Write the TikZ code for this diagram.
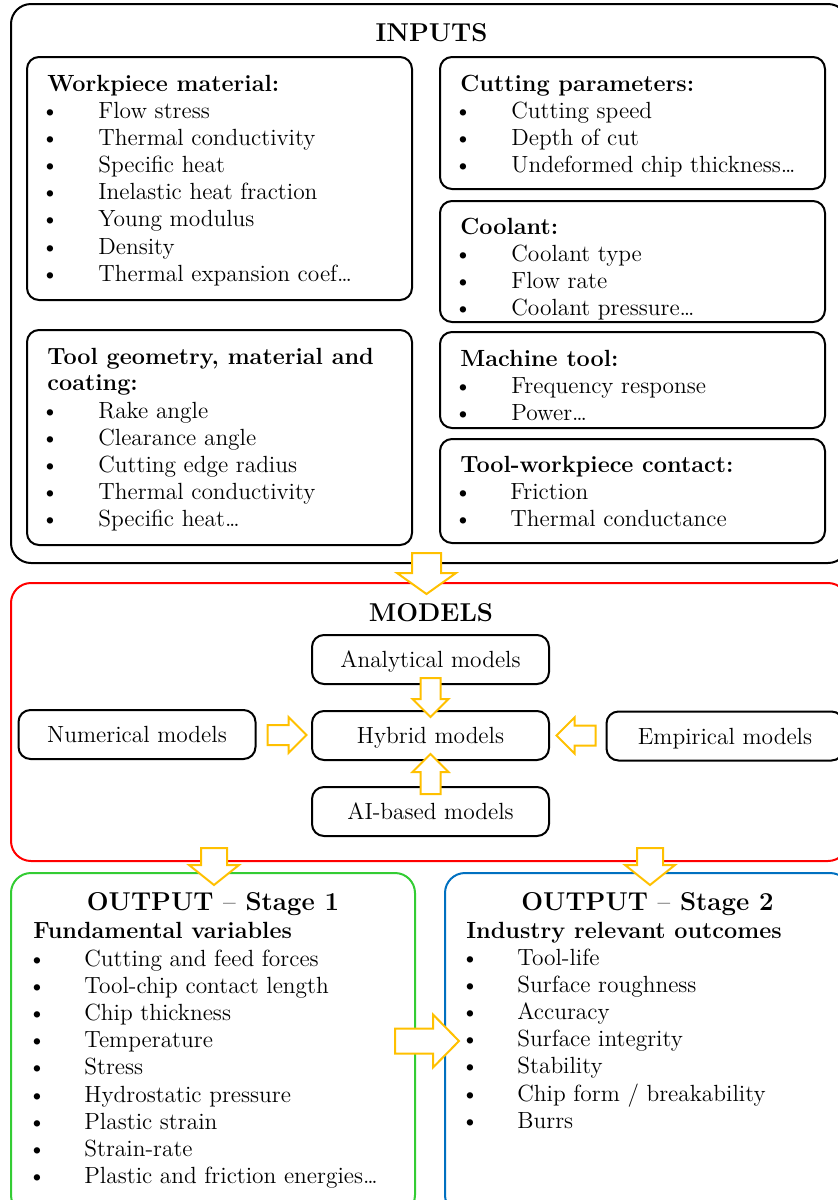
\documentclass[tikz,border=0pt]{standalone}
\usepackage{tikz}
\usetikzlibrary{positioning,fit,calc}
\definecolor{arrowyellow}{RGB}{255,192,0}
\definecolor{outgreen}{RGB}{51,204,51}
\definecolor{outblue}{RGB}{0,112,192}
\newcommand{\bodyfont}{\fontsize{11.7}{13.6}\selectfont}
\newcommand{\headfont}{\fontsize{12.9}{15}\selectfont\bfseries}
\newcommand{\etcdots}{.\kern-1.1pt.\kern-1.1pt.}
\tikzset{
  px/.style={x=0.5pt,y=-0.5pt},
  outerbox/.style={draw,line width=1pt,rounded corners=10pt,inner sep=0pt},
  inbox/.style={draw,line width=1pt,rounded corners=6pt,inner sep=0pt},
  modelbox/.style={draw,line width=1pt,rounded corners=6pt,minimum width=118.5pt,
    minimum height=24.5pt,text depth=0pt,font=\bodyfont},
  heading/.style={anchor=base,inner sep=0pt,font=\headfont},
  boxtitle/.style={anchor=base west,inner sep=0pt,font=\bodyfont\bfseries},
  itemtext/.style={anchor=base west,inner sep=0pt,font=\bodyfont},
  bulletmark/.style={anchor=base,inner sep=0pt,font=\bodyfont},
  hollow/.style={draw=arrowyellow,line width=1pt,fill=white,line join=miter},
}
% bullet list: prefix, bullet x, text x, first baseline, items
\newcommand{\itemlist}[5]{%
  \foreach \txt [count=\n] in {#5} {
    \node[bulletmark] (#1b\n) at (#2,{#4+(\n-1)*27.2}) {\textbullet};
    \node[itemtext] (#1\n) at (#3,{#4+(\n-1)*27.2}) {\txt};
  }}
% hollow block arrow: tail, rotation, length, head length, shaft half width, head half width
\newcommand{\hollowarrow}[6]{%
  \draw[hollow,shift={#1},rotate=#2] (0,-#5) -- ({#3-#4},-#5) -- ({#3-#4},-#6) -- (#3,0)
    -- ({#3-#4},#6) -- ({#3-#4},#5) -- (0,#5) -- cycle;}

\begin{document}
\begin{tikzpicture}[px]
  \useasboundingbox (0,0) rectangle (837,1200);

  % inputs
  \node[outerbox,fit={(11,4) (848,563)}] (inputs) {};
  \node[heading] (inputstitle) at (431.5,41.5) {INPUTS};

  \node[inbox,fit={(27,57) (412,300)}] (workpiece) {};
  \node[boxtitle] (workpiecetitle) at (47,91) {Workpiece material:};
  \itemlist{wp}{50}{98}{118}{Flow stress,Thermal conductivity,Specific heat,
    Inelastic heat fraction,Young modulus,Density,Thermal expansion coef\etcdots}

  \node[inbox,fit={(27,330) (412,545)}] (toolgeom) {};
  \node[boxtitle] (toolgeomtitle) at (47,364) {Tool geometry, material and};
  \node[boxtitle] (toolgeomtitleb) at (47,390) {coating:};
  \itemlist{tg}{50}{98}{418}{Rake angle,Clearance angle,Cutting edge radius,
    Thermal conductivity,Specific heat\etcdots}

  \node[inbox,fit={(440,57) (825,189)}] (cutting) {};
  \node[boxtitle] (cuttingtitle) at (460,91) {Cutting parameters:};
  \itemlist{cp}{463}{511}{118}{Cutting speed,Depth of cut,Undeformed chip thickness\etcdots}

  \node[inbox,fit={(440,201) (825,322)}] (coolant) {};
  \node[boxtitle] (coolanttitle) at (460,234) {Coolant:};
  \itemlist{cl}{463}{511}{261}{Coolant type,Flow rate,Coolant pressure\etcdots}

  \node[inbox,fit={(440,332) (825,428)}] (machine) {};
  \node[boxtitle] (machinetitle) at (460,366) {Machine tool:};
  \itemlist{mt}{463}{511}{393}{Frequency response,Power\etcdots}

  \node[inbox,fit={(440,439) (825,543)}] (contact) {};
  \node[boxtitle] (contacttitle) at (460,472) {Tool-workpiece contact:};
  \itemlist{tc}{463}{510}{499}{Friction,Thermal conductance}

  % models
  \node[outerbox,draw=red,fit={(11,583) (848,861)}] (models) {};
  \node[heading] (modelstitle) at (431,621.5) {MODELS};
  \node[modelbox] (analytical) at (430.5,659.5) {Analytical models};
  \node[modelbox] (hybrid) at (430.5,735.5) {Hybrid models};
  \node[modelbox] (aibased) at (430.5,811.5) {AI-based models};
  \node[modelbox] (numerical) at (137,734.5) {Numerical models};
  \node[modelbox] (empirical) at (725,736) {Empirical models};

  % outputs
  \node[outerbox,draw=outgreen,fit={(11,873) (415,1215)}] (stageone) {};
  \node[heading] (stageonetitle) at (213,910) {OUTPUT \textmd{--} Stage 1};
  \node[boxtitle] (fundamental) at (33,938) {Fundamental variables};
  \itemlist{so}{37}{84}{966}{Cutting and feed forces,Tool-chip contact length,
    Chip thickness,Temperature,Stress,Hydrostatic pressure,Plastic strain,
    Strain-rate,Plastic and friction energies\etcdots}

  \node[outerbox,draw=outblue,fit={(445,873) (850,1215)}] (stagetwo) {};
  \node[heading] (stagetwotitle) at (647.5,910) {OUTPUT \textmd{--} Stage 2};
  \node[boxtitle] (industry) at (466,938) {Industry relevant outcomes};
  \itemlist{st}{470}{517}{965}{Tool-life,Surface roughness,Accuracy,
    Surface integrity,Stability,Chip form / breakability,Burrs}

  % block arrows
  \hollowarrow{(426.5,553)}{-90}{41}{21}{14.5}{29.5}
  \hollowarrow{($(analytical.south)+(0,-7)$)}{-90}{39}{18}{10}{18}
  \hollowarrow{($(numerical.east)+(11,0.5)$)}{0}{39}{18}{10}{18}
  \hollowarrow{($(empirical.west)+(-10,-0.5)$)}{180}{39}{18}{10}{18}
  \hollowarrow{($(aibased.north)+(0,8)$)}{90}{40}{18}{10}{18}
  \hollowarrow{(214,848)}{-90}{37}{20}{13}{25}
  \hollowarrow{(650,848)}{-90}{37}{20}{13}{25}
  \hollowarrow{(395,1041)}{0}{64}{26}{12.5}{26.5}
\end{tikzpicture}
\end{document}
